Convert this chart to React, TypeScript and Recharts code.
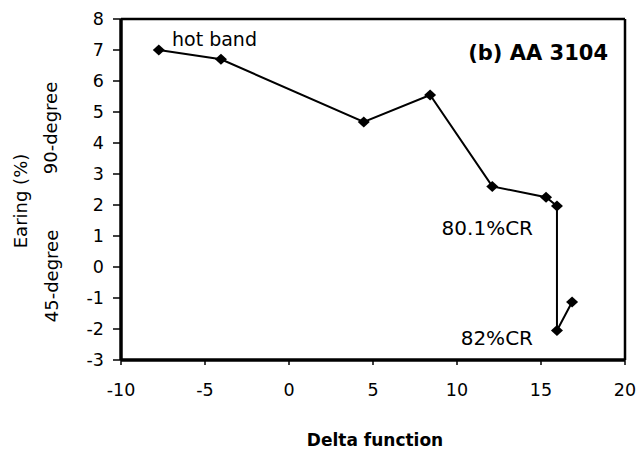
import { LineChart, Line, XAxis, YAxis, ReferenceLine } from "recharts";

const deltaFunction = [-7.75, -4.05, 4.45, 8.4, 12.1, 15.3, 15.95, 15.95, 16.85];
const earing = [7.0, 6.7, 4.68, 5.55, 2.6, 2.25, 1.97, -2.05, -1.13];
const xTicks = [-10, -5, 0, 5, 10, 15, 20];
const yTicks = [-3, -2, -1, 0, 1, 2, 3, 4, 5, 6, 7, 8];

const data = deltaFunction.map((x, i) => ({ x, y: earing[i] }));

const FONT = "'DejaVu Sans', 'Liberation Sans', Arial, sans-serif";

function Diamond({ cx, cy }: { cx?: number; cy?: number }) {
  if (cx == null || cy == null) return null;
  const w = 6;
  const h = 5.5;
  return (
    <polygon
      points={`${cx - w},${cy} ${cx},${cy - h} ${cx + w},${cy} ${cx},${cy + h}`}
      fill="#000"
    />
  );
}

export default function App() {
  const tick = { fill: "#000", fontSize: 17.5, fontFamily: FONT };
  return (
    <div style={{ position: "absolute", left: 0, top: 0, width: 639, height: 450, background: "#fff" }}>
      <LineChart width={639} height={450} data={data} margin={{ top: 19, right: 14, bottom: 0, left: 0 }}>
        <XAxis
          type="number"
          dataKey="x"
          domain={[-10, 20]}
          ticks={xTicks}
          allowDataOverflow
          height={90}
          axisLine={{ stroke: "#000", strokeWidth: 3.5 }}
          tickLine={{ stroke: "#000", strokeWidth: 1.5 }}
          tickSize={5}
          tickMargin={19}
          tick={tick}
        />
        <YAxis
          type="number"
          domain={[-3, 8]}
          ticks={yTicks}
          allowDataOverflow
          width={121}
          axisLine={{ stroke: "#000", strokeWidth: 3.5 }}
          tickLine={{ stroke: "#000", strokeWidth: 1.5 }}
          tickSize={8}
          tickMargin={9}
          tick={tick}
        />
        <ReferenceLine y={8} stroke="#000" strokeWidth={2.5} />
        <ReferenceLine x={20} stroke="#000" strokeWidth={2.5} />
        <Line
          type="linear"
          dataKey="y"
          stroke="#000"
          strokeWidth={2}
          isAnimationActive={false}
          dot={(p: any) => <Diamond key={`d-${p.index}`} cx={p.cx} cy={p.cy} />}
          activeDot={false}
        />
        {/* annotations */}
        <text x={172} y={46} fontSize={19} fontFamily={FONT} fill="#000">hot band</text>
        <text x={608} y={60} fontSize={21} fontWeight="bold" fontFamily={FONT} fill="#000" textAnchor="end">(b) AA 3104</text>
        <text x={533} y={235} fontSize={20} fontFamily={FONT} fill="#000" textAnchor="end">80.1%CR</text>
        <text x={533} y={345} fontSize={20} fontFamily={FONT} fill="#000" textAnchor="end">82%CR</text>
        <text x={375} y={446} fontSize={17} fontWeight="bold" fontFamily={FONT} fill="#000" textAnchor="middle">Delta function</text>
        <text x={20} y={201} fontSize={18} fontFamily={FONT} fill="#000" textAnchor="middle" dominantBaseline="central" transform="rotate(-90 20 201)">Earing (%)</text>
        <text x={50} y={128} fontSize={18} fontFamily={FONT} fill="#000" textAnchor="middle" dominantBaseline="central" transform="rotate(-90 50 128)">90-degree</text>
        <text x={51} y={276} fontSize={18} fontFamily={FONT} fill="#000" textAnchor="middle" dominantBaseline="central" transform="rotate(-90 51 276)">45-degree</text>
      </LineChart>
    </div>
  );
}
